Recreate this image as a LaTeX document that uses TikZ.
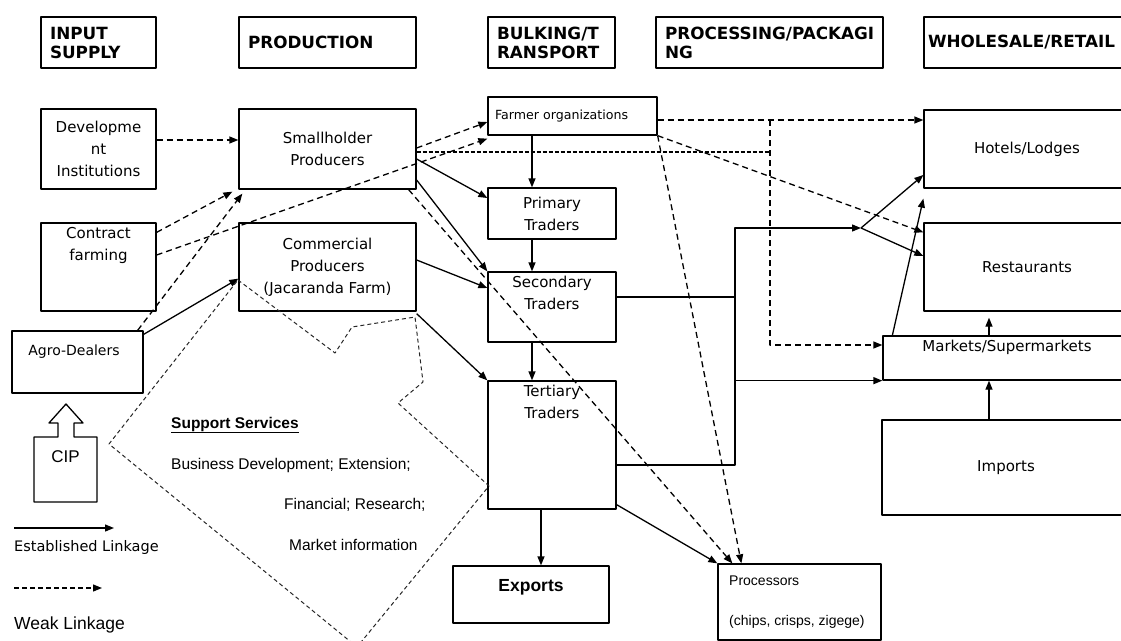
\documentclass[tikz,border=0pt]{standalone}
\usepackage{fontspec}
\setmainfont{DejaVu Sans}
\newfontfamily\arial{Liberation Sans}
\usetikzlibrary{arrows.meta}
\begin{document}
\begin{tikzpicture}[x=1pt, y=-1pt, line join=round, >={Triangle[length=9pt,width=7pt]},
	box/.style={draw, line width=1.3pt, inner sep=0pt, align=center, font=\fontsize{15}{22}\selectfont},
	head/.style={draw, line width=1.3pt, minimum height=51pt, inner xsep=9pt, inner ysep=0pt, align=left, font=\bfseries\fontsize{16.8}{19}\selectfont},
	txt/.style={inner sep=0pt, align=center, font=\fontsize{15}{22}\selectfont},
	arl/.style={inner sep=0pt, align=left, font=\arial\fontsize{15.5}{18}\selectfont},
	link/.style={line width=1.3pt, ->},
	weak/.style={line width=1.3pt, dash pattern=on 6pt off 4pt},
	zone/.style={line width=1pt, black!85, dash pattern=on 4pt off 3pt}]
	\useasboundingbox (0,0) rectangle (1121,640);
	% stages
	\node[head, text width=97pt] (hin) at (98.5,42.5) {INPUT\\SUPPLY};
	\node[head, text width=159pt] (hpr) at (327.5,42.5) {PRODUCTION};
	\node[head, text width=109pt] (hbt) at (551.5,42.5) {BULKING/T\\RANSPORT};
	\node[head, text width=209pt] (hpp) at (769.5,42.5) {PROCESSING/PACKAGI\\NG};
	\node[head, inner xsep=4pt, text width=198pt] (hwr) at (1027,42.5) {WHOLESALE/RETAIL};
	% actors
	\node[box, minimum width=115pt, minimum height=80pt] (dev) at (98.5,149) {Developme\\nt\\Institutions};
	\node[box, minimum width=177pt, minimum height=80pt] (sh) at (327.5,149) {Smallholder\\Producers};
	\node[box, minimum width=169pt, minimum height=38pt, text width=155pt, align=left, font=\fontsize{12.6}{15}\selectfont] (fo) at (572.5,116) {Farmer organizations};
	\node[box, minimum width=206pt, minimum height=78pt] (hl) at (1027,149) {Hotels/Lodges};
	\node[box, minimum width=115pt, minimum height=88pt] (cf) at (98.5,267) {};
	\node[txt] (cf-t) at (98.5,245) {Contract\\farming};
	\node[box, minimum width=177pt, minimum height=88pt] (cp) at (327.5,267) {Commercial\\Producers\\(Jacaranda Farm)};
	\node[box, minimum width=128pt, minimum height=51pt] (pt) at (552,213.5) {Primary\\Traders};
	\node[box, minimum width=206pt, minimum height=88pt] (rs) at (1027,267) {Restaurants};
	\node[box, minimum width=128pt, minimum height=70pt] (st) at (552,307) {};
	\node[txt] (st-t) at (552,292.5) {Secondary\\Traders};
	\node[box, minimum width=131pt, minimum height=62pt] (ag) at (77.5,362) {};
	\node[txt, font=\fontsize{14}{17}\selectfont] (ag-t) at (74,352) {Agro-Dealers};
	\node[box, minimum width=247pt, minimum height=44pt] (mk) at (1006.5,358) {};
	\node[txt] (mk-t) at (1007,347) {Markets/Supermarkets};
	\node[box, minimum width=128pt, minimum height=128pt] (tt) at (552,445) {};
	\node[txt] (tt-t) at (552,401.5) {Tertiary\\Traders};
	\node[box, minimum width=248pt, minimum height=95pt] (im) at (1006,467.5) {Imports};
	\node[box, minimum width=156pt, minimum height=57pt] (ex) at (531,594.5) {};
	\node[txt, font=\arial\bfseries\fontsize{17.5}{20}\selectfont] (ex-t) at (531,587) {Exports};
	\node[box, minimum width=163pt, minimum height=76pt] (pc) at (799.5,602) {};
	\node[arl, anchor=west, font=\arial\fontsize{14}{40}\selectfont] (pc-t) at (729,602) {Processors\\(chips, crisps, zigege)};
	% CIP
	\draw[line width=1.3pt] (34,502) -- (34,437) -- (58,437) -- (58,423) -- (49,423) -- (66,404)
		-- (83,423) -- (74,423) -- (74,437) -- (97,437) -- (97,502) -- cycle;
	\node[arl, font=\arial\fontsize{17}{20}\selectfont] (cip) at (65.5,457) {CIP};
	% support services
	\draw[zone] (238,280) -- (335,353) -- (352,327) -- (415,317) -- (423,382) -- (398,403)
		-- (489,486) -- (357,647) -- (109,444) -- cycle;
	\node[arl, anchor=west, font=\arial\bfseries\fontsize{15.5}{18}\selectfont] (ss) at (171,425) {\underline{Support Services}};
	\node[arl, anchor=west] (ss1) at (171,465) {Business Development; Extension;};
	\node[arl, anchor=west] (ss2) at (284,505) {Financial; Research;};
	\node[arl, anchor=west] (ss3) at (289,545) {Market information};
	% established linkages
	\draw[link] ([yshift=-4pt]ag.north east) -- ([yshift=33pt]cp.south west);
	\draw[link] ([yshift=-10pt]sh.east) -- ([yshift=15.5pt]pt.west);
	\draw[link] ([yshift=-31pt]sh.east) -- (st.north west);
	\draw[link] ([yshift=7pt]cp.east) -- ([yshift=19pt]st.west);
	\draw[link] ([yshift=-2pt]cp.south east) -- (tt.north west);
	\draw[link] ([xshift=-40.5pt]fo.south) -- ([xshift=-20pt]pt.north);
	\draw[link] ([xshift=-20pt]pt.south) -- ([xshift=-20pt]st.north);
	\draw[link] ([xshift=-20pt]st.south) -- ([xshift=-20pt]tt.north);
	\coordinate (bus) at (735,228);
	\coordinate (fork) at (861,228);
	\draw[line width=1.3pt] ([yshift=10pt]st.east) -| (bus);
	\draw[link] ([yshift=-20pt]tt.east) -| (bus) -- (fork);
	\draw[link] (bus |- mk.south) -- (mk.south west);
	\draw[link] (fork) -- ([yshift=-26pt]hl.west);
	\draw[link] (fork) -- ([yshift=11pt]rs.west);
	\draw[link] ([xshift=10pt]mk.north west) -- ([yshift=-10pt]hl.south west);
	\draw[link] ([xshift=-17.5pt]mk.north) -- ([xshift=-38pt, yshift=-6pt]rs.south);
	\draw[link] ([xshift=-17pt]im.north) -- ([xshift=-17.5pt]mk.south);
	\draw[link] ([xshift=-11pt]tt.south) -- ([xshift=10pt]ex.north);
	\draw[link] ([yshift=5pt]tt.south east) -- (pc.north west);
	% weak linkages
	\draw[weak,->] ([yshift=9pt]dev.east) -- ([yshift=9pt]sh.west);
	\draw[weak,->] ([yshift=-10pt]cf.north east) -- ([shift={(-6pt,-2pt)}]sh.south west);
	\draw[weak,->] ([xshift=-6pt]ag.north east) -- ([shift={(4pt,-4pt)}]sh.south west);
	\draw[weak,->] ([yshift=12pt]cf.east) -- ([yshift=-3pt]fo.south west);
	\draw[weak,->] ([yshift=1pt]sh.east) -- ([yshift=-6pt]fo.west);
	\draw[weak,->] ([yshift=-4pt]fo.east) -- ([yshift=29pt]hl.west);
	\coordinate (wk) at (770,120);
	\coordinate (wk2) at (770,152);
	\draw[weak,->] (wk) |- ([yshift=13pt]mk.west);
	\draw[weak, dash pattern=on 4pt off 2pt] ([yshift=-3pt]sh.east) -- (wk2);
	\draw[weak,->] (fo.south east) -- ([yshift=-10pt]rs.north west);
	\draw[weak,->] (fo.south east) -- ([xshift=24pt]pc.north west);
	\draw[weak,->] ([xshift=-8pt]sh.south east) -- ([xshift=15pt]pc.north west);
	% legend
	\coordinate (l1) at (14,528);
	\coordinate (l2) at (114,528);
	\coordinate (l3) at (14,588);
	\coordinate (l4) at (102,588);
	\draw[link] (l1) -- (l2);
	\node[txt, anchor=west, font=\fontsize{14.5}{17}\selectfont] (lg1) at (14,547) {Established Linkage};
	\draw[weak, dash pattern=on 5pt off 3pt, ->] (l3) -- (l4);
	\node[arl, anchor=west, font=\arial\fontsize{17.5}{20}\selectfont] (lg2) at (14,625) {Weak Linkage};
\end{tikzpicture}
\end{document}
